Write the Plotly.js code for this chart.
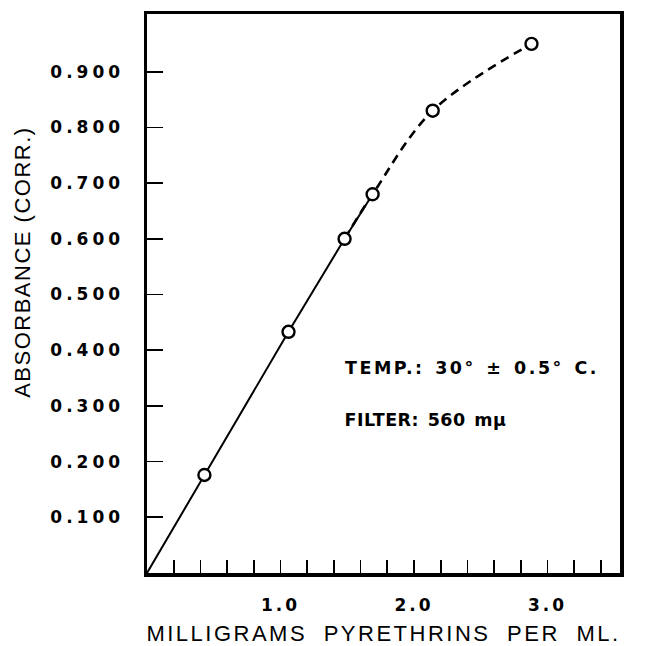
<!DOCTYPE html>
<html>
<head>
<meta charset="utf-8">
<script src="https://cdn.plot.ly/plotly-3.0.1.min.js"></script>
<style>
  html, body { margin: 0; padding: 0; background: #fff; }
  #plot { width: 653px; height: 646px; }
  #plot .ytick text { letter-spacing: 4px; }
  #plot .xtick text { letter-spacing: 3px; }
  #plot .xtitle { letter-spacing: 2.5px; word-spacing: 8px; }
  #plot .annotation[data-index="0"] text { letter-spacing: 2.5px; word-spacing: 2px; }
  #plot .annotation[data-index="1"] text { letter-spacing: 0.5px; word-spacing: 2px; }
  #plot .annotation[data-index="2"] text { letter-spacing: 1.5px; }
</style>
</head>
<body>
<div id="plot"></div>
<script>
// Measured points (mg pyrethrins per ml vs corrected absorbance)
const concentration = [0.43, 1.06, 1.48, 1.69, 2.14, 2.88];
const absorbance    = [0.176, 0.433, 0.600, 0.680, 0.830, 0.950];
// Curve origin
const originX = [0];
const originY = [0];
// Index where the solid straight line ends and the dashed curve begins
const solidEnd = 4;

// Tick labels
const xTickVals = [0.2, 0.4, 0.6, 0.8, 1.0, 1.2, 1.4, 1.6, 1.8, 2.0, 2.2, 2.4, 2.6, 2.8, 3.0, 3.2, 3.4];
const xTickText = ['', '', '', '', '1.0', '', '', '', '', '2.0', '', '', '', '', '3.0', '', ''];
const yTickVals = [0.1, 0.2, 0.3, 0.4, 0.5, 0.6, 0.7, 0.8, 0.9];
const yTickText = ['0.100', '0.200', '0.300', '0.400', '0.500', '0.600', '0.700', '0.800', '0.900'];

const xTitle = 'MILLIGRAMS PYRETHRINS PER ML.';
const yTitle = 'ABSORBANCE (CORR.)';
const notes = ['TEMP.: 30° ± 0.5° C.', 'FILTER: 560 mμ'];

// spline starts one point earlier so the curve leaves the straight line tangentially
const dashed = {
  x: concentration.slice(solidEnd - 2),
  y: absorbance.slice(solidEnd - 2),
  mode: 'lines',
  line: { color: '#000', width: 2.6, dash: '9px,6px', shape: 'spline', smoothing: 1 },
  hoverinfo: 'skip'
};
const solid = {
  x: originX.concat(concentration.slice(0, solidEnd)),
  y: originY.concat(absorbance.slice(0, solidEnd)),
  mode: 'lines',
  line: { color: '#000', width: 2 },
  hoverinfo: 'skip'
};
const pts = {
  x: concentration,
  y: absorbance,
  mode: 'markers',
  marker: { symbol: 'circle', size: 12, color: '#fff', line: { color: '#000', width: 2.4 } }
};

const tickFont = { family: 'DejaVu Sans', size: 17, color: '#000', weight: 'bold' };
const noteFont = { family: 'DejaVu Sans', size: 17.5, color: '#000', weight: 'bold' };
const titleFont = { family: 'Liberation Sans', size: 22, color: '#000' };

const layout = {
  width: 653, height: 646,
  paper_bgcolor: '#fff', plot_bgcolor: '#fff',
  showlegend: false,
  margin: { l: 147, r: 33, t: 14, b: 73 },
  xaxis: {
    range: [0, 3.543],
    showgrid: false, zeroline: false,
    showline: true, linecolor: '#000', linewidth: 3.5, mirror: true,
    ticks: 'inside', ticklen: 13, tickwidth: 1.6, tickcolor: '#000',
    tickvals: xTickVals, ticktext: xTickText,
    tickfont: tickFont,
    ticklabelstandoff: 14,
    automargin: false,
    title: { text: xTitle, font: titleFont, standoff: 12 }
  },
  yaxis: {
    range: [0, 1.0036],
    showgrid: false, zeroline: false,
    showline: true, linecolor: '#000', linewidth: 3.5, mirror: true,
    ticks: 'inside', ticklen: 16, tickwidth: 1.6, tickcolor: '#000',
    tickvals: yTickVals, ticktext: yTickText,
    tickfont: tickFont,
    ticklabelstandoff: 16,
    automargin: false
  },
  annotations: [
    { xref: 'paper', yref: 'paper', x: 0.476, y: 0.367, xanchor: 'left', yanchor: 'middle', showarrow: false,
      text: notes[0], font: noteFont },
    { xref: 'paper', yref: 'paper', x: 0.426, y: 0.274, xanchor: 'left', yanchor: 'middle', showarrow: false,
      text: notes[1], font: noteFont },
    { xref: 'paper', yref: 'paper', x: -0.264, y: 0.556, xanchor: 'center', yanchor: 'middle', showarrow: false,
      textangle: -90, text: yTitle, font: titleFont }
  ]
};

Plotly.newPlot('plot', [dashed, solid, pts], layout, { displayModeBar: false, staticPlot: true });
</script>
</body>
</html>
